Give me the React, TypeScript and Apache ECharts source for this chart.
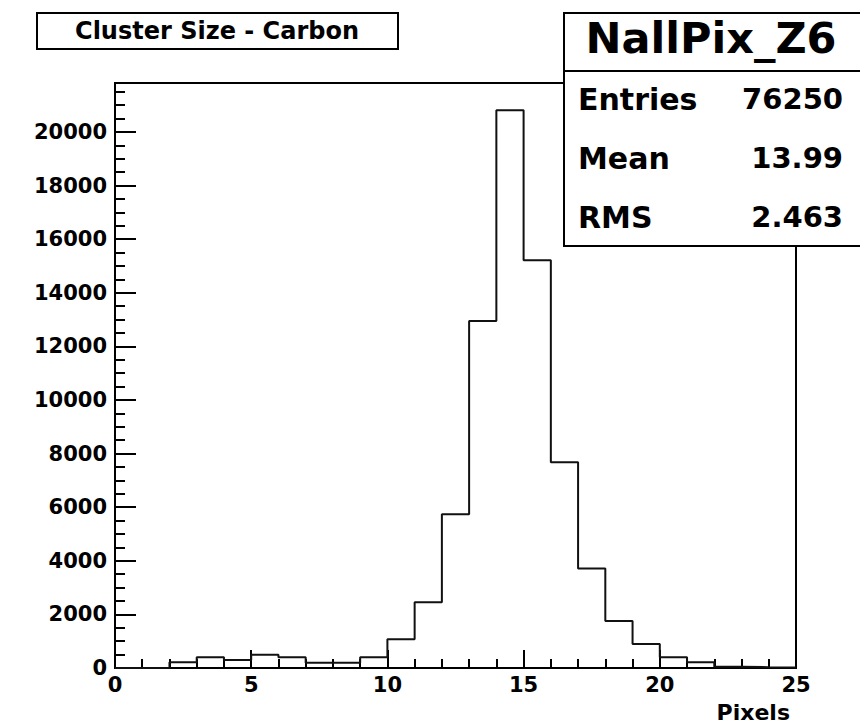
import React, { useEffect, useRef } from "react";
import * as echarts from "echarts";

// Histogram bins: [binLow, binLow + binWidth * counts.length)
const binLow = 0;
const binWidth = 1;
const counts = [
  0, 0, 210, 400, 300, 490, 400, 200, 200, 400, 1070, 2450, 5740, 12950, 20810,
  15220, 7680, 3710, 1750, 900, 400, 210, 50, 30, 20,
];

const histTitle = "Cluster Size - Carbon";
const statsName = "NallPix_Z6";
const statsLabels = ["Entries", "Mean", "RMS"];
const statsValues = ["76250", "13.99", "2.463"];
const xTitle = "Pixels";
const xRange = [0, 25];
const yMax = 21830;
const yMajorStep = 2000;
const xMajorStep = 5;

const FONT = "DejaVu Sans";

export default function App() {
  const ref = useRef<HTMLDivElement>(null);

  useEffect(() => {
    const chart = echarts.init(ref.current!, null, { renderer: "svg" });

    // Outline of the histogram: one point per bin low edge, plus the upper edge
    const stepData: number[][] = counts.map((c, i) => [binLow + i * binWidth, c]);
    stepData.push([binLow + counts.length * binWidth, counts[counts.length - 1]]);

    const labelStyle = {
      color: "#000",
      fontFamily: FONT,
      fontWeight: "bold" as const,
      fontSize: 21,
    };

    const statsRowsY = [99, 158, 217];

    chart.setOption({
      animation: false,
      backgroundColor: "#fff",
      grid: {
        left: 115,
        right: 64,
        top: 83,
        bottom: 56,
        show: true,
        borderColor: "#000",
        borderWidth: 2,
        backgroundColor: "transparent",
      },
      xAxis: {
        type: "value",
        min: xRange[0],
        max: xRange[1],
        interval: xMajorStep,
        axisLine: { show: true, lineStyle: { color: "#000", width: 2 } },
        axisTick: { show: true, inside: true, length: 18, lineStyle: { color: "#000", width: 2 } },
        minorTick: { show: true, splitNumber: 5, length: 9, lineStyle: { color: "#000", width: 2 } },
        axisLabel: { ...labelStyle, margin: 6 },
        splitLine: { show: false },
      },
      yAxis: {
        type: "value",
        min: 0,
        max: yMax,
        interval: yMajorStep,
        axisLine: { show: true, lineStyle: { color: "#000", width: 2 } },
        axisTick: { show: true, inside: true, length: 21, lineStyle: { color: "#000", width: 2 } },
        minorTick: { show: true, splitNumber: 4, length: 10, lineStyle: { color: "#000", width: 2 } },
        axisLabel: {
          ...labelStyle,
          margin: 8,
          formatter: (v: number) => (v % yMajorStep === 0 ? String(v) : ""),
        },
        splitLine: { show: false },
      },
      series: [
        {
          type: "line",
          step: "end",
          data: stepData,
          symbol: "none",
          lineStyle: { color: "#111", width: 2 },
          z: 3,
        },
      ],
      graphic: [
        // histogram title box
        {
          type: "rect",
          z: 20,
          shape: { x: 37, y: 13, width: 361, height: 36 },
          style: { fill: "#fff", stroke: "#000", lineWidth: 2 },
        },
        {
          type: "text",
          z: 21,
          x: 217,
          y: 31,
          style: {
            text: histTitle,
            fill: "#000",
            font: `bold 24px "${FONT}"`,
            textAlign: "center",
            textVerticalAlign: "middle",
          },
        },
        // statistics box
        {
          type: "rect",
          z: 20,
          shape: { x: 564, y: 13, width: 310, height: 233 },
          style: { fill: "#fff", stroke: "#000", lineWidth: 2 },
        },
        {
          type: "line",
          z: 21,
          shape: { x1: 564, y1: 71, x2: 870, y2: 71 },
          style: { stroke: "#000", lineWidth: 2 },
        },
        {
          type: "text",
          z: 21,
          x: 711,
          y: 38,
          style: {
            text: statsName,
            fill: "#000",
            font: `bold 43px "${FONT}"`,
            textAlign: "center",
            textVerticalAlign: "middle",
          },
        },
        ...statsLabels.flatMap((lab, i) => [
          {
            type: "text",
            z: 21,
            x: 578,
            y: statsRowsY[i],
            style: {
              text: lab,
              fill: "#000",
              font: `bold 30px "${FONT}"`,
              textAlign: "left",
              textVerticalAlign: "middle",
            },
          },
          {
            type: "text",
            z: 21,
            x: 843,
            y: statsRowsY[i],
            style: {
              text: statsValues[i],
              fill: "#000",
              font: `bold 29px "${FONT}"`,
              textAlign: "right",
              textVerticalAlign: "middle",
            },
          },
        ]),
        // x axis title
        {
          type: "text",
          z: 21,
          x: 790,
          y: 712,
          style: {
            text: xTitle,
            fill: "#000",
            font: `bold 22px "${FONT}"`,
            textAlign: "right",
            textVerticalAlign: "middle",
          },
        },
      ],
    });

    return () => chart.dispose();
  }, []);

  return (
    <div
      ref={ref}
      style={{ position: "absolute", left: 0, top: 0, width: 860, height: 724, background: "#fff" }}
    />
  );
}
